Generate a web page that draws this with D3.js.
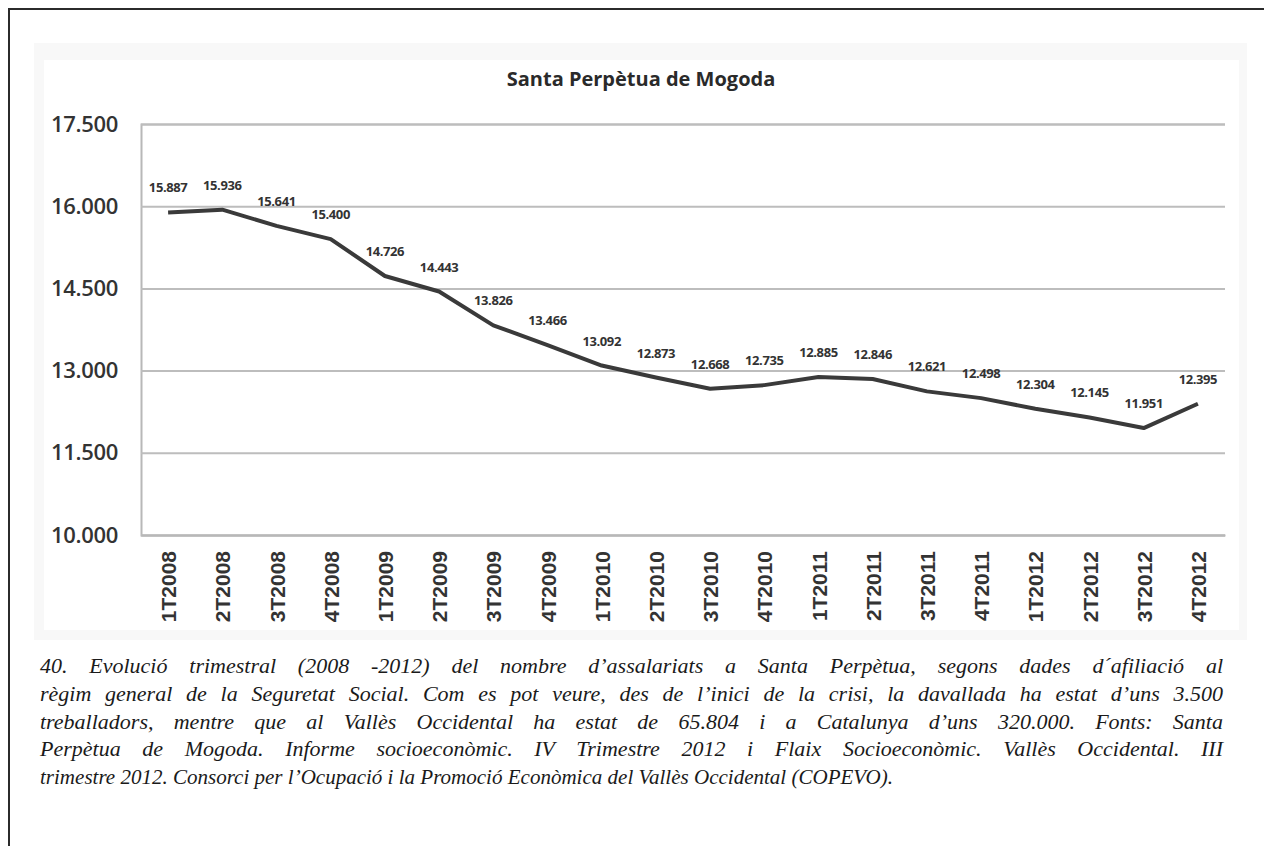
<!DOCTYPE html>
<html>
<head>
<meta charset="utf-8">
<script src="https://cdn.jsdelivr.net/npm/d3@7"></script>
<style>
  body { margin: 0; background: #fff; }
  svg { display: block; }
  .caption { font-family: "Liberation Serif", "DejaVu Serif", serif; font-style: italic; }
</style>
</head>
<body>
<svg id="canvas" width="1264" height="846"></svg>
<script>
// quarters and number of salaried workers
let QUARTERS = ["1T2008","2T2008","3T2008","4T2008","1T2009","2T2009","3T2009","4T2009",
                "1T2010","2T2010","3T2010","4T2010","1T2011","2T2011","3T2011","4T2011",
                "1T2012","2T2012","3T2012","4T2012"]
let WORKERS = [15887, 15936, 15641, 15400, 14726, 14443, 13826, 13466,
               13092, 12873, 12668, 12735, 12885, 12846, 12621, 12498,
               12304, 12145, 11951, 12395]
let Y_TICKS = [10000, 11500, 13000, 14500, 16000, 17500]

let TITLE = "Santa Perpètua de Mogoda"
let CAPTION = [
  "40. Evolució trimestral (2008 -2012) del nombre d’assalariats a Santa Perpètua, segons dades d´afiliació al",
  "règim general de la Seguretat Social. Com es pot veure, des de l’inici de la crisi, la davallada ha estat d’uns 3.500",
  "treballadors, mentre que al Vallès Occidental ha estat de 65.804 i a Catalunya d’uns 320.000. Fonts: Santa",
  "Perpètua de Mogoda. Informe socioeconòmic. IV Trimestre 2012 i  Flaix Socioeconòmic. Vallès Occidental. III",
  "trimestre 2012. Consorci per l’Ocupació i la Promoció Econòmica del Vallès Occidental (COPEVO)."
]

let canvas = d3.select('#canvas')

let locale = d3.formatLocale({decimal: ",", thousands: ".", grouping: [3], currency: ["", " €"]})
let fmt = locale.format(",d")

let plot = {left: 141, right: 1225, top: 124, bottom: 535}

let xScale = d3.scalePoint()
  .domain(QUARTERS)
  .range([plot.left, plot.right])
  .padding(0.5)

let yScale = d3.scaleLinear()
  .domain([10000, 17500])
  .range([plot.bottom, plot.top])

// outer frame (top + left only, the rest is cut off)
canvas.append('path')
  .attr('d', 'M9,846 V9 H1264')
  .attr('fill', 'none')
  .attr('stroke', '#2b2b2b')
  .attr('stroke-width', 2)

// chart panel
canvas.append('rect')
  .attr('x', 34).attr('y', 43)
  .attr('width', 1213).attr('height', 597)
  .attr('fill', '#f8f8f8')
canvas.append('rect')
  .attr('x', 44).attr('y', 60)
  .attr('width', 1195).attr('height', 570)
  .attr('fill', '#fff')

canvas.append('text')
  .attr('x', 641)
  .attr('y', 86)
  .attr('text-anchor', 'middle')
  .attr('font-family', 'Open Sans, sans-serif')
  .attr('font-weight', 700)
  .attr('font-size', 20)
  .attr('fill', '#2a2a2a')
  .text(TITLE)

// gridlines
let yAxis = d3.axisLeft(yScale)
  .tickValues(Y_TICKS)
  .tickSize(-(plot.right - plot.left))
  .tickPadding(23)
  .tickFormat(fmt)

let yG = canvas.append('g')
  .attr('transform', 'translate(' + plot.left + ',0)')
  .call(yAxis)

yG.select('.domain').attr('stroke', '#b8b8b8').attr('stroke-width', 2)
yG.selectAll('.tick line').attr('stroke', '#bdbdbd').attr('stroke-width', 2)
yG.selectAll('.tick text')
  .attr('font-family', 'Open Sans, sans-serif')
  .attr('font-weight', 600)
  .attr('font-size', 22)
  .attr('letter-spacing', -0.3)
  .attr('fill', '#333')

// x axis with rotated labels
let xAxis = d3.axisBottom(xScale).tickSize(0).tickPadding(0)
let xG = canvas.append('g')
  .attr('transform', 'translate(0,' + plot.bottom + ')')
  .call(xAxis)

xG.select('.domain').attr('stroke', '#b8b8b8').attr('stroke-width', 2)
xG.selectAll('.tick text')
  .attr('transform', 'rotate(-90)')
  .attr('text-anchor', 'end')
  .attr('x', -16)
  .attr('y', 0)
  .attr('dy', '0.36em')
  .attr('font-family', 'Liberation Sans, Arial, sans-serif')
  .attr('font-weight', 700)
  .attr('font-size', 21)
  .attr('fill', '#333')

// line
let line = d3.line()
  .x((d, i) => xScale(QUARTERS[i]))
  .y(d => yScale(d))

canvas.append('path')
  .datum(WORKERS)
  .attr('d', line)
  .attr('fill', 'none')
  .attr('stroke', '#3a3a3a')
  .attr('stroke-width', 4)
  .attr('stroke-linejoin', 'round')

// value labels
canvas.append('g')
  .selectAll('text')
  .data(WORKERS)
  .enter()
  .append('text')
  .attr('x', (d, i) => xScale(QUARTERS[i]))
  .attr('y', d => yScale(d) - 20)
  .attr('text-anchor', 'middle')
  .attr('font-family', 'Open Sans, sans-serif')
  .attr('font-weight', 700)
  .attr('font-size', 13)
  .attr('letter-spacing', -0.4)
  .attr('fill', '#333')
  .text(d => fmt(d))

// caption, justified by widening the word gaps
let captionWidth = 1183
let captionText = canvas.append('g')
  .selectAll('text')
  .data(CAPTION)
  .enter()
  .append('text')
  .attr('class', 'caption')
  .attr('x', 40)
  .attr('y', (d, i) => 673 + i * 27.8)
  .attr('font-size', 22)
  .attr('fill', '#1a1a1a')
  .text(d => d)

captionText.each(function (d, i) {
  if (i === CAPTION.length - 1) {
    d3.select(this).attr('textLength', 853).attr('lengthAdjust', 'spacingAndGlyphs')
    return
  }
  let natural = this.getComputedTextLength()
  let gaps = d.replace(/\s+/g, ' ').split(' ').length - 1
  d3.select(this).attr('word-spacing', (captionWidth - natural) / gaps)
})
</script>
</body>
</html>
